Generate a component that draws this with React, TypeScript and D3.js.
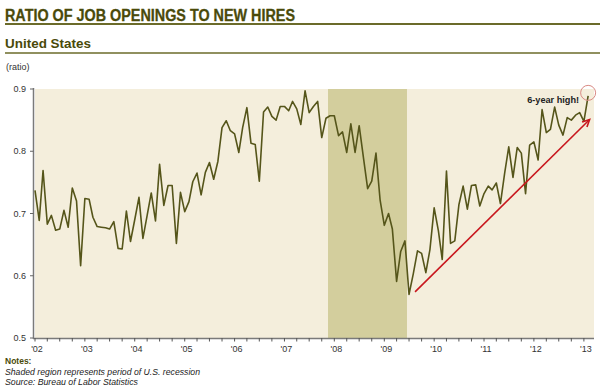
import * as d3 from "d3";

// monthly ratio of job openings to new hires, Jan of each year onward
const years = [2002, 2003, 2004, 2005, 2006, 2007, 2008, 2009, 2010, 2011, 2012, 2013];
const ratio2002 = [0.737, 0.689, 0.769, 0.683, 0.697, 0.673, 0.675, 0.705, 0.678, 0.741, 0.72, 0.616];
const ratio2003 = [0.724, 0.723, 0.694, 0.679, 0.678, 0.677, 0.675, 0.687, 0.644, 0.643, 0.704, 0.655];
const ratio2004 = [0.69, 0.726, 0.66, 0.697, 0.733, 0.688, 0.779, 0.713, 0.745, 0.745, 0.652, 0.734];
const ratio2005 = [0.703, 0.719, 0.751, 0.765, 0.73, 0.766, 0.782, 0.755, 0.784, 0.838, 0.849, 0.833];
const ratio2006 = [0.828, 0.798, 0.838, 0.87, 0.813, 0.811, 0.752, 0.863, 0.871, 0.856, 0.85, 0.872];
const ratio2007 = [0.872, 0.865, 0.88, 0.868, 0.843, 0.897, 0.862, 0.872, 0.88, 0.822, 0.853, 0.857];
const ratio2008 = [0.857, 0.825, 0.831, 0.798, 0.844, 0.798, 0.841, 0.79, 0.74, 0.752, 0.797, 0.722];
const ratio2009 = [0.681, 0.7, 0.675, 0.591, 0.639, 0.656, 0.57, 0.603, 0.64, 0.636, 0.605, 0.642];
const ratio2010 = [0.709, 0.672, 0.626, 0.768, 0.652, 0.656, 0.714, 0.744, 0.707, 0.745, 0.746, 0.712];
const ratio2011 = [0.732, 0.744, 0.738, 0.749, 0.716, 0.765, 0.807, 0.758, 0.806, 0.797, 0.732, 0.81];
const ratio2012 = [0.815, 0.786, 0.867, 0.83, 0.835, 0.871, 0.842, 0.826, 0.854, 0.85, 0.858, 0.862];
const ratio2013 = [0.848, 0.889];
const ratioByYear = [ratio2002, ratio2003, ratio2004, ratio2005, ratio2006, ratio2007, ratio2008, ratio2009, ratio2010, ratio2011, ratio2012, ratio2013];

const yTicks = [0.5, 0.6, 0.7, 0.8, 0.9];
const yearLabels = ["'02", "'03", "'04", "'05", "'06", "'07", "'08", "'09", "'10", "'11", "'12", "'13"];

// recession (shaded) and the trend arrow annotation
const recession = [new Date(2007, 10, 16), new Date(2009, 5, 16)];
const arrowFrom = { date: new Date(2009, 7, 14), value: 0.574 };
const arrowTo = { date: new Date(2013, 1, 12), value: 0.851 };

const data = ratioByYear.flatMap((vals, yi) =>
  vals.map((v, m) => ({ date: new Date(years[yi], m, 1), value: v }))
);

const OLIVE = "#4a4a0a";
const LINE = "#55551a";
const FONT = "'Liberation Sans', Arial, sans-serif";

export default function App() {
  const x = d3.scaleTime()
    .domain([new Date(2002, 0, 1), new Date(2013, 2, 16)])
    .range([35, 594]);
  const y = d3.scaleLinear().domain([0.5, 0.9]).range([338, 89]);

  const line = d3.line<{ date: Date; value: number }>()
    .x(d => x(d.date))
    .y(d => y(d.value));

  const quarterTicks = d3.timeMonth.every(3)!.range(new Date(2002, 0, 1), new Date(2013, 1, 1));
  const yearTicks = years.map(yr => new Date(yr, 0, 1));

  const ax1 = x(arrowFrom.date), ay1 = y(arrowFrom.value);
  const ax2 = x(arrowTo.date), ay2 = y(arrowTo.value);
  const ang = Math.atan2(ay2 - ay1, ax2 - ax1);
  const head = 8;
  const h1 = [ax2 - head * Math.cos(ang - 0.45), ay2 - head * Math.sin(ang - 0.45)];
  const h2 = [ax2 - head * Math.cos(ang + 0.45), ay2 - head * Math.sin(ang + 0.45)];

  const last = data[data.length - 1];
  const lx = x(last.date);
  const ly = y(last.value);

  return (
    <svg width={600} height={388} style={{ position: "absolute", left: 0, top: 0, background: "#fff" }} fontFamily={FONT}>
      {/* header */}
      <text x={5} y={20.5} fontSize={16} fontWeight="bold" fill={OLIVE} stroke={OLIVE} strokeWidth={0.3} textLength={290} lengthAdjust="spacingAndGlyphs">
        RATIO OF JOB OPENINGS TO NEW HIRES
      </text>
      <line x1={5} x2={600} y1={24} y2={24} stroke="#6b6b2a" strokeWidth={1.8} />
      <text x={5} y={48} fontSize={13} fontWeight="bold" fill={OLIVE} textLength={86} lengthAdjust="spacingAndGlyphs">
        United States
      </text>
      <line x1={5} x2={600} y1={53} y2={53} stroke="#6b6b2a" strokeWidth={1.3} />
      <text x={6} y={70} fontSize={9} fill="#333">(ratio)</text>

      {/* plot background + recession */}
      <rect x={35} y={89} width={594 - 35} height={338 - 89} fill="#f4eedc" />
      <rect x={x(recession[0])} y={89} width={x(recession[1]) - x(recession[0])} height={338 - 89} fill="#d3ce9d" />

      {/* y axis */}
      <line x1={33.5} x2={33.5} y1={88} y2={339} stroke="#7a7a7a" strokeWidth={1.5} />
      {yTicks.map(t => (
        <g key={t}>
          <line x1={30} x2={33.5} y1={y(t)} y2={y(t)} stroke="#666" />
          <text x={26} y={y(t)} dy="0.35em" textAnchor="end" fontSize={9} fill="#333">{t.toFixed(1)}</text>
        </g>
      ))}

      {/* x axis */}
      <line x1={33} x2={594} y1={338.5} y2={338.5} stroke="#7a7a7a" strokeWidth={1.5} />
      {quarterTicks.map(t => (
        <line key={+t} x1={x(t)} x2={x(t)} y1={338} y2={341.5} stroke="#555" />
      ))}
      {yearTicks.map((t, i) => (
        <text key={+t} x={x(t) + 2} y={352} textAnchor="middle" fontSize={9} fill="#333">{yearLabels[i]}</text>
      ))}

      {/* series */}
      <path d={line(data) || ""} fill="none" stroke={LINE} strokeWidth={1.6} strokeLinejoin="round" />

      {/* annotations */}
      <line x1={ax1} y1={ay1} x2={ax2} y2={ay2} stroke="#c8171e" strokeWidth={1.6} />
      <polyline points={`${h1[0]},${h1[1]} ${ax2},${ay2} ${h2[0]},${h2[1]}`} fill="none" stroke="#c8171e" strokeWidth={1.6} />
      <circle cx={lx} cy={ly - 3} r={7.5} fill="none" stroke="#d98a84" strokeWidth={1} />
      <text x={lx - 9} y={102.5} textAnchor="end" fontSize={9.5} fontWeight="bold" fill="#222" textLength={52} lengthAdjust="spacingAndGlyphs">
        6-year high!
      </text>

      {/* notes */}
      <text x={5} y={364} fontSize={8.5} fontWeight="bold" fill={OLIVE}>Notes:</text>
      <text x={5} y={375} fontSize={8.5} fontStyle="italic" fill="#222" textLength={195} lengthAdjust="spacingAndGlyphs">Shaded region represents period of U.S. recession</text>
      <text x={5} y={385} fontSize={8.5} fontStyle="italic" fill="#222" textLength={133} lengthAdjust="spacingAndGlyphs">Source: Bureau of Labor Statistics</text>
    </svg>
  );
}
